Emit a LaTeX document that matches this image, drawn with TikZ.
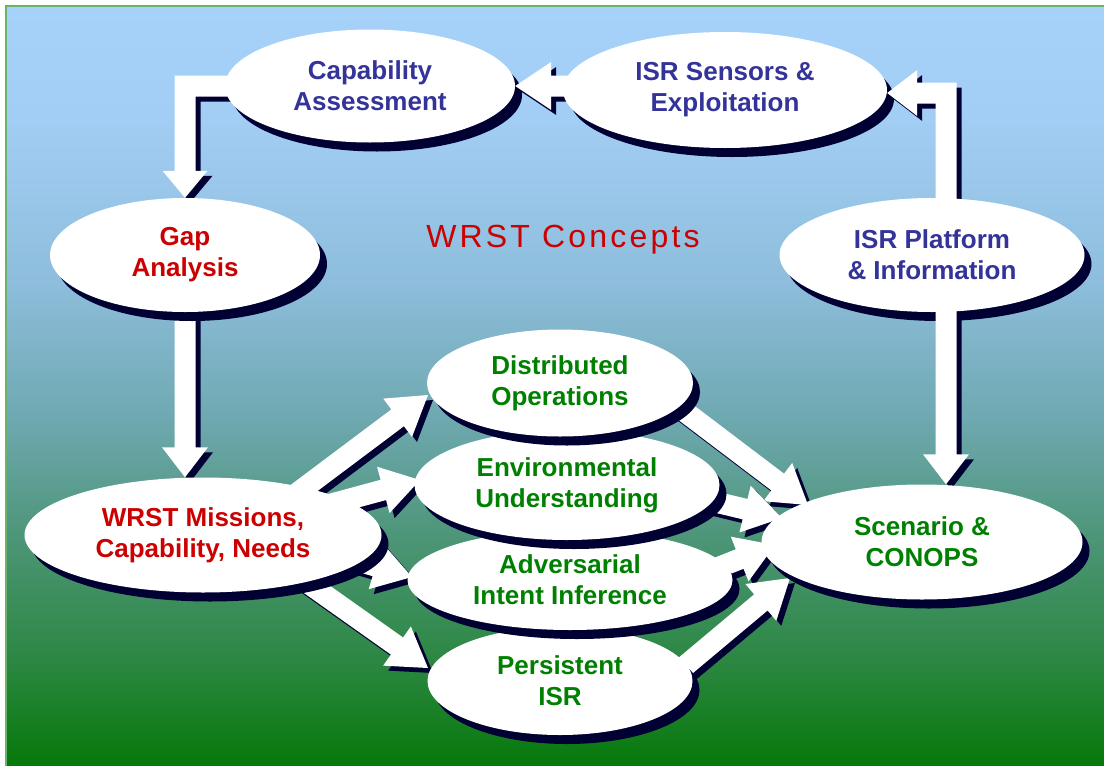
\documentclass[tikz,border=0pt]{standalone}
\usepackage{fontspec}
\setmainfont{Liberation Sans}
\newfontfamily\titlefont[LetterSpace=10]{Liberation Sans}
\usetikzlibrary{calc,shapes.geometric,shadows}
\definecolor{shc}{RGB}{0,0,51}
\definecolor{tblue}{RGB}{51,51,153}
\definecolor{tred}{RGB}{204,0,0}
\definecolor{tgreen}{RGB}{0,128,0}
\definecolor{bordergreen}{RGB}{104,180,104}
\definecolor{g0}{RGB}{166,210,250}
\definecolor{g1}{RGB}{162,205,244}
\definecolor{g2}{RGB}{142,190,220}
\definecolor{g3}{RGB}{110,168,176}
\definecolor{g4}{RGB}{76,149,118}
\definecolor{g5}{RGB}{44,135,66}
\definecolor{g6}{RGB}{6,121,10}
\pgfdeclareverticalshading{bgshade}{100bp}{color(0bp)=(g6); color(25bp)=(g6); color(31.97bp)=(g5); color(39.87bp)=(g4); color(47.76bp)=(g3); color(56.97bp)=(g2); color(67.5bp)=(g1); color(75bp)=(g0); color(100bp)=(g0)}
\pgfdeclarelayer{bg}
\pgfdeclarelayer{sh}
\pgfdeclarelayer{arr}
\pgfsetlayers{bg,sh,arr,main}
\tikzset{
  bub/.style={ellipse, fill=white, inner sep=0pt, align=center, font=\bfseries\fontsize{26}{31}\selectfont},
  shad/.style={drop shadow={shadow xshift=7pt, shadow yshift=-9pt, fill=shc, opacity=1}},
  arrw/.style={fill=white},
  arrsh/.style={fill=shc, transform canvas={shift={(5pt,-5pt)}}},
}
% #1 start, #2 tip, #3 half shaft, #4 half head, #5 head length
\newcommand\blockarrow[5]{%
  \fill[arrsh] let \p1=#1, \p2=#2, \n1={atan2(\y2-\y1,\x2-\x1)} in
    ($(\p1)+(\n1:-20pt)+(\n1+90:#3)$) -- ($(\p2)+(\n1:-#5)+(\n1+90:#3)$) -- ($(\p2)+(\n1:-#5)+(\n1+90:#4)$) -- (\p2) -- ($(\p2)+(\n1:-#5)+(\n1-90:#4)$) -- ($(\p2)+(\n1:-#5)+(\n1-90:#3)$) -- ($(\p1)+(\n1:-20pt)+(\n1-90:#3)$) -- cycle;
  \fill[arrw] let \p1=#1, \p2=#2, \n1={atan2(\y2-\y1,\x2-\x1)} in
    ($(\p1)+(\n1:-20pt)+(\n1+90:#3)$) -- ($(\p2)+(\n1:-#5)+(\n1+90:#3)$) -- ($(\p2)+(\n1:-#5)+(\n1+90:#4)$) -- (\p2) -- ($(\p2)+(\n1:-#5)+(\n1-90:#4)$) -- ($(\p2)+(\n1:-#5)+(\n1-90:#3)$) -- ($(\p1)+(\n1:-20pt)+(\n1-90:#3)$) -- cycle;
}
\newcommand\elbowone[1]{\fill[#1] ($(e1s)+(0,-10.5)$) -- ($(e1c)+(-10.5,-10.5)$) -- ($(e1t)+(-10.5,-27)$) -- ($(e1t)+(-22.5,-27)$) -- (e1t) -- ($(e1t)+(22.5,-27)$) -- ($(e1t)+(10.5,-27)$) -- ($(e1c)+(10.5,10.5)$) -- ($(e1s)+(0,10.5)$) -- cycle;}
\newcommand\elbowtwo[1]{\fill[#1] ($(e2s)+(-10.5,0)$) -- ($(e2c)+(-10.5,10.5)$) -- ($(e2t)+(30,10.5)$) -- ($(e2t)+(30,23)$) -- (e2t) -- ($(e2t)+(30,-23)$) -- ($(e2t)+(30,-10.5)$) -- ($(e2c)+(10.5,-10.5)$) -- ($(e2s)+(10.5,0)$) -- cycle;}
\begin{document}
\begin{tikzpicture}[x=1pt,y=-1pt]
\useasboundingbox (0,0) rectangle (1104,766);
\begin{pgfonlayer}{bg}
\shade[shading=bgshade] (6,6) rectangle (1104,766);
\draw[bordergreen, line width=2pt] (6,766) -- (6,6) -- (1104,6);
\end{pgfonlayer}

% ellipses
\node[bub, shad, text=tred, minimum width=270pt, minimum height=114pt] (gap) at (185,255) {Gap\\Analysis};
\node[bub, shad, text=tred, minimum width=357pt, minimum height=115pt] (wrst) at (203,535) {WRST Missions,\\Capability, Needs};
\node[bub, shad, text=tgreen, minimum width=321pt, minimum height=115pt] (scen) at (922,542) {Scenario \&\\CONOPS};
\node[bub, shad, text=tgreen, minimum width=265pt, minimum height=108pt] (pers) at (560,681) {Persistent\\ISR};
\node[bub, shad, text=tgreen, minimum width=325pt, minimum height=100pt] (adv) at (570,580) {Adversarial\\Intent Inference};
\node[bub, shad, text=tgreen, minimum width=305pt, minimum height=110pt] (env) at (567,485) {Environmental\\Understanding};
\node[bub, shad, text=tgreen, minimum width=266pt, minimum height=107pt] (dist) at (560,383) {Distributed\\Operations};
\node[bub, text=tblue, minimum width=290pt, minimum height=113pt] (capa) at (370,86) {Capability\\Assessment};
\node[bub, text=tblue, minimum width=324pt, minimum height=116pt] (isrs) at (725,90) {ISR Sensors \&\\Exploitation};
\node[bub, text=tblue, minimum width=305pt, minimum height=114pt] (isrp) at (932,255) {ISR Platform\\\& Information};
\node[text=tred, font=\titlefont\fontsize{32}{36}\selectfont, anchor=base, inner sep=0pt] (title) at (563,247) {WRST Concepts};

\begin{pgfonlayer}{sh}
\fill[shc] ($(capa.center)+(7,9)$) ellipse [x radius=145pt, y radius=56.5pt];
\fill[shc] ($(isrs.center)+(7,9)$) ellipse [x radius=162pt, y radius=58pt];
\fill[shc] ($(isrp.center)+(7,9)$) ellipse [x radius=152.5pt, y radius=57pt];
\end{pgfonlayer}

\begin{pgfonlayer}{arr}
% WRST to middle ellipses
\blockarrow{($(wrst)+(97,-44)$)}{($(dist)+(-132,12)$)}{10.5pt}{24pt}{38pt}
\blockarrow{($(wrst)+(132,-32)$)}{($(env)+(-147,-5)$)}{10.5pt}{24pt}{38pt}
\blockarrow{($(wrst)+(152,25)$)}{($(adv)+(-158,-3)$)}{10.5pt}{24pt}{38pt}
\blockarrow{($(wrst)+(112,53)$)}{($(pers)+(-132,-13)$)}{10.5pt}{24pt}{38pt}
% middle ellipses to Scenario
\blockarrow{($(dist)+(120,25)$)}{($(scen)+(-114,-37)$)}{10.5pt}{24pt}{38pt}
\blockarrow{($(env)+(140,15)$)}{($(scen)+(-140,-24)$)}{10.5pt}{24pt}{38pt}
\blockarrow{($(adv)+(152,-14)$)}{($(scen)+(-147,3)$)}{10.5pt}{24pt}{38pt}
\blockarrow{($(pers)+(125,-15)$)}{($(scen)+(-132,36)$)}{10.5pt}{24pt}{38pt}
% straight arrows
\blockarrow{(isrs.west |- capa.east)}{(capa.east)}{10.5pt}{24pt}{36pt}
\blockarrow{(gap.south)}{(gap.south |- wrst.north)}{10.5pt}{23pt}{30pt}
\coordinate (a5s) at ($(isrp.south)+(14,0)$);
\blockarrow{(a5s)}{(a5s |- scen.north)}{10.5pt}{23pt}{30pt}
% elbow arrows
\coordinate (e1s) at ($(capa.west)+(25,0)$);
\coordinate (e1t) at (gap.north);
\coordinate (e1c) at (e1t |- e1s);
\elbowone{arrsh}
\elbowone{arrw}
\coordinate (e2s) at ($(isrp.north)+(14,25)$);
\coordinate (e2t) at ($(isrs.east)+(0,3)$);
\coordinate (e2c) at (e2s |- e2t);
\elbowtwo{arrsh}
\elbowtwo{arrw}
\end{pgfonlayer}
\end{tikzpicture}
\end{document}
